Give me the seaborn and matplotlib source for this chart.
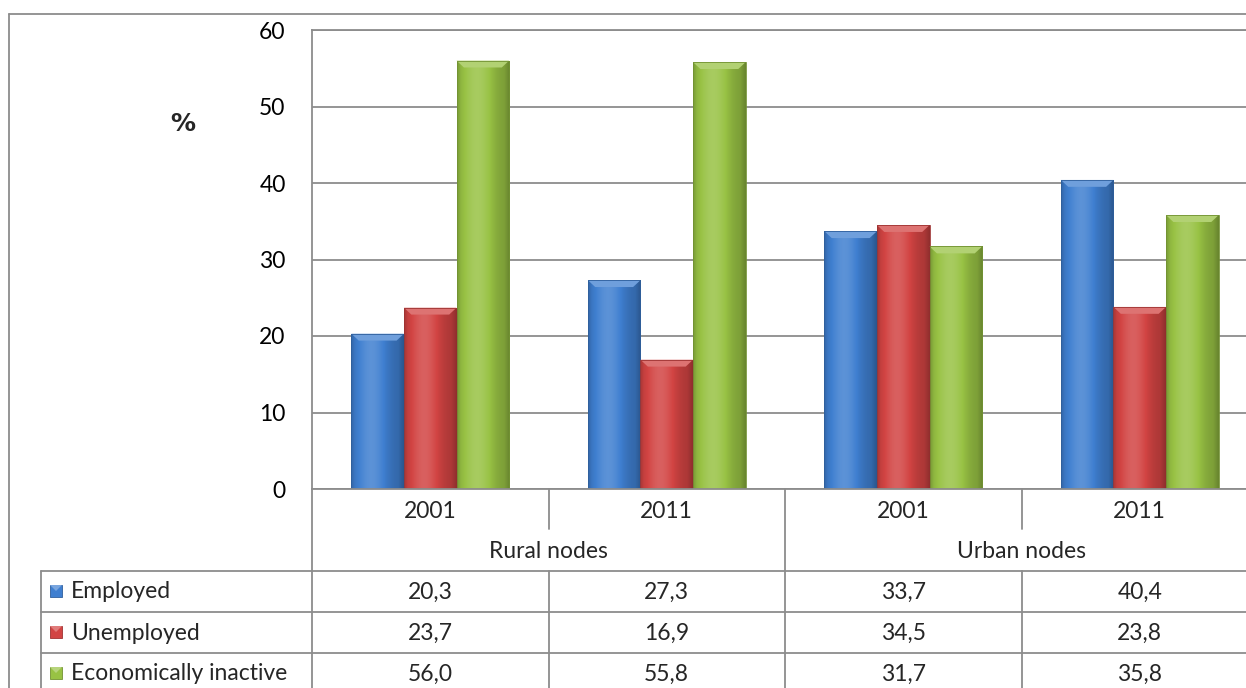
import numpy as np
import pandas as pd
import matplotlib
matplotlib.use("Agg")
import matplotlib.pyplot as plt
from matplotlib.lines import Line2D
from matplotlib.patches import Polygon, Rectangle
from matplotlib.colors import to_rgb
import seaborn as sns

# ---- data -------------------------------------------------------------
years = ["2001", "2011", "2001", "2011"]
areas = ["Rural nodes", "Urban nodes"]
series = ["Employed", "Unemployed", "Economically inactive"]
employed = [20.3, 27.3, 33.7, 40.4]
unemployed = [23.7, 16.9, 34.5, 23.8]
inactive = [56.0, 55.8, 31.7, 35.8]
value_labels = [
    ["20,3", "27,3", "33,7", "40,4"],
    ["23,7", "16,9", "34,5", "23,8"],
    ["56,0", "55,8", "31,7", "35,8"],
]
yticks = [0, 10, 20, 30, 40, 50, 60]

slots = [f"{a} {y}" for a, yrs in zip(areas, [years[:2], years[2:]]) for y in yrs]
df = pd.DataFrame({
    "slot": slots * 3,
    "series": np.repeat(series, 4),
    "value": employed + unemployed + inactive,
})

colors = {"Employed": "#3f7fd0", "Unemployed": "#d24443", "Economically inactive": "#98c244"}
GRID = "#8c8c8c"
FONT = ["Lato", "DejaVu Sans"]
FS = 16.5

sns.set_theme(style="white")
plt.rcParams["font.family"] = FONT

W, H = 1246, 688
fig = plt.figure(figsize=(W / 100, H / 100), dpi=100)

# plot area in pixel coordinates
L, T, R, B = 312, 30, 1258, 489
ax = fig.add_axes([L / W, 1 - B / H, (R - L) / W, (B - T) / H])

sns.barplot(data=df, x="slot", y="value", hue="series", order=slots,
            hue_order=series, palette=colors, width=0.667, gap=0,
            saturation=1, legend=False, ax=ax, linewidth=0, zorder=3)

ax.set_ylim(0, 60)
ax.set_yticks(yticks)
ax.set_yticklabels([str(t) for t in yticks], fontsize=FS, color="black")
ax.tick_params(axis="y", length=0, pad=19)
ax.set_xticks([])
ax.set_xlabel("")
ax.set_ylabel("")
ax.yaxis.grid(True, color=GRID, linewidth=1.3, zorder=0)
ax.set_axisbelow(True)
for side in ["left", "top", "right", "bottom"]:
    ax.spines[side].set_color(GRID)
    ax.spines[side].set_linewidth(1.3)
ax.spines["bottom"].set_visible(False)


def shade(rgb, f):
    rgb = np.array(rgb)
    if f >= 1:
        return rgb + (1 - rgb) * (f - 1)
    return rgb * f


# glossy shading on every bar
for patch in list(ax.patches):
    x0, w, h = patch.get_x(), patch.get_width(), patch.get_height()
    if h <= 0:
        continue
    base = to_rgb(patch.get_facecolor())
    n = 64
    t = np.linspace(0, 1, n)
    prof = 0.80 + 0.35 * np.exp(-((t - 0.38) / 0.32) ** 2)
    prof = np.where(t > 0.9, prof * (1 - (t - 0.9) * 1.5), prof)
    prof = np.where(t < 0.06, prof * (0.9 + t * 1.6), prof)
    img = np.array([[np.clip(shade(base, p), 0, 1) for p in prof]])
    im = ax.imshow(img, extent=[x0, x0 + w, 0, h], aspect="auto",
                   zorder=3.5, interpolation="bilinear")
    im.set_clip_path(patch)
    # bevelled top
    bw = w * 0.14
    bh = 0.9
    top = Polygon([[x0, h], [x0 + w, h], [x0 + w - bw, h - bh], [x0 + bw, h - bh]],
                  closed=True, facecolor=np.clip(shade(base, 1.25), 0, 1),
                  edgecolor="none", zorder=3.6)
    ax.add_patch(top)
    ax.add_patch(Rectangle((x0, 0), w, h, facecolor="none",
                           edgecolor=shade(base, 0.75), linewidth=0.6, zorder=3.7))

ax.set_xlim(-0.5, 3.5)
fig.canvas.draw()

# ---- data table under the plot (pixel coordinates) --------------------
ov = fig.add_axes([0, 0, 1, 1], zorder=5)
ov.set_xlim(0, W)
ov.set_ylim(H, 0)
ov.axis("off")
ov.patch.set_alpha(0)


def px(xd):
    return ax.transData.transform((xd, 0))[0]


bounds = [px(i - 0.5) for i in range(5)]
centers = [px(i) for i in range(4)]


def hline(y, x0, x1):
    ov.add_line(Line2D([x0, x1], [y, y], color=GRID, linewidth=1.3))


def vline(x, y0, y1):
    ov.add_line(Line2D([x, x], [y0, y1], color=GRID, linewidth=1.3))


# outer chart border
hline(14, 9, W + 10)
vline(9, 14, H + 10)

row_year, row_area = 511, 551
row_y = [592, 633, 674]
row_edges = [571, 612, 653, 694]
LEG_L = 41

hline(B, L, W + 10)
for y in row_edges:
    hline(y, LEG_L, W + 10)
vline(LEG_L, row_edges[0], H + 10)
vline(L, B, H + 10)
vline(bounds[1], B, 529)
vline(bounds[3], B, 529)
vline(bounds[2], B, H + 10)
for x in (bounds[1], bounds[3]):
    vline(x, row_edges[0], H + 10)

for c, yr in zip(centers, years):
    ov.text(c, row_year, yr, ha="center", va="center", fontsize=FS)
for k, a in enumerate(areas):
    ov.text((centers[2 * k] + centers[2 * k + 1]) / 2, row_area, a,
            ha="center", va="center", fontsize=FS)

for r, s in enumerate(series):
    yc = row_y[r] - 1
    col = colors[s]
    ov.add_patch(Rectangle((50, yc - 6), 12, 12, facecolor=col,
                           edgecolor=shade(to_rgb(col), 0.75), linewidth=0.6))
    ov.add_patch(Polygon([[50, yc - 6], [62, yc - 6], [56, yc]], closed=True,
                         facecolor=np.clip(shade(to_rgb(col), 1.3), 0, 1),
                         edgecolor="none"))
    ov.text(71, row_y[r], s, ha="left", va="center", fontsize=FS)
    for c, lab in zip(centers, value_labels[r]):
        ov.text(c, row_y[r], lab, ha="center", va="center", fontsize=FS)

ov.text(183, 124, "%", ha="center", va="center", fontsize=18,
        fontweight="bold", family=["DejaVu Sans"])

fig.savefig("out.png", dpi=100)
